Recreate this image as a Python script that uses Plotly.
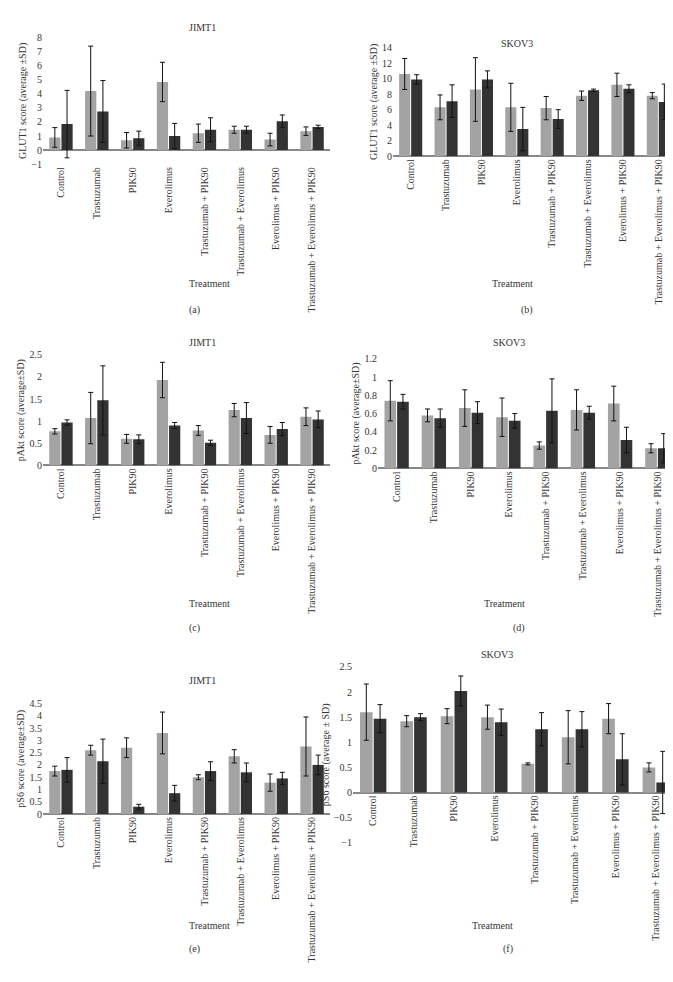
import plotly.graph_objects as go

categories = ["Control", "Trastuzumab", "PIK90", "Everolimus", "Trastuzumab + PIK90",
              "Trastuzumab + Everolimus", "Everolimus + PIK90", "Trastuzumab + Everolimus + PIK90"]

# (a) JIMT1 GLUT1
a_grey = [0.9, 4.2, 0.7, 4.85, 1.2, 1.45, 0.75, 1.35]
a_grey_sd = [0.7, 3.2, 0.55, 1.4, 0.65, 0.25, 0.45, 0.3]
a_dark = [1.85, 2.75, 0.85, 1.0, 1.45, 1.45, 2.05, 1.65]
a_dark_sd = [2.4, 2.2, 0.5, 0.9, 0.85, 0.25, 0.45, 0.12]
# (b) SKOV3 GLUT1
b_grey = [10.6, 6.3, 8.6, 6.3, 6.2, 7.8, 9.2, 7.8]
b_grey_sd = [2.0, 1.6, 4.1, 3.1, 1.5, 0.6, 1.5, 0.4]
b_dark = [9.9, 7.1, 9.9, 3.5, 4.8, 8.5, 8.7, 7.0]
b_dark_sd = [0.6, 2.1, 1.1, 2.8, 1.2, 0.15, 0.5, 2.3]
# (c) JIMT1 pAkt
c_grey = [0.77, 1.07, 0.6, 1.93, 0.79, 1.25, 0.69, 1.1]
c_grey_sd = [0.06, 0.58, 0.1, 0.4, 0.11, 0.15, 0.19, 0.2]
c_dark = [0.97, 1.47, 0.59, 0.9, 0.51, 1.07, 0.82, 1.04]
c_dark_sd = [0.06, 0.78, 0.1, 0.07, 0.06, 0.35, 0.15, 0.19]
# (d) SKOV3 pAkt
d_grey = [0.74, 0.58, 0.66, 0.56, 0.25, 0.64, 0.71, 0.22]
d_grey_sd = [0.22, 0.07, 0.2, 0.21, 0.04, 0.22, 0.19, 0.05]
d_dark = [0.73, 0.55, 0.61, 0.52, 0.63, 0.61, 0.31, 0.22]
d_dark_sd = [0.08, 0.1, 0.12, 0.08, 0.35, 0.07, 0.14, 0.16]
# (e) JIMT1 pS6
e_grey = [1.75, 2.6, 2.7, 3.3, 1.5, 2.35, 1.28, 2.75]
e_grey_sd = [0.2, 0.2, 0.4, 0.85, 0.1, 0.27, 0.35, 1.2]
e_dark = [1.8, 2.15, 0.3, 0.85, 1.75, 1.7, 1.45, 2.0]
e_dark_sd = [0.5, 0.9, 0.1, 0.32, 0.38, 0.38, 0.25, 0.4]
# (f) SKOV3 pS6
f_grey = [1.6, 1.42, 1.52, 1.5, 0.57, 1.1, 1.47, 0.5]
f_grey_sd = [0.56, 0.11, 0.15, 0.24, 0.02, 0.53, 0.3, 0.09]
f_dark = [1.47, 1.5, 2.02, 1.4, 1.26, 1.26, 0.66, 0.2]
f_dark_sd = [0.28, 0.07, 0.3, 0.26, 0.33, 0.35, 0.51, 0.62]

W, H = 673, 982
FONT = "Liberation Serif"
FS = 10

panels = [
    # grey, sd, dark, sd, title, ytitle, yrange, dtick, x px, y px, zero px, caption, treatment px, caption px, title px
    (a_grey, a_grey_sd, a_dark, a_dark_sd, "JIMT1", "GLUT1 score (average ±SD)", [-1, 8], 1,
     (35, 322), (24, 152), None, "(a)", 265, 292, 6),
    (b_grey, b_grey_sd, b_dark, b_dark_sd, "SKOV3", "GLUT1 score (average ±SD)", [0, 14], 2,
     (385, 668), (34, 144), None, "(b)", 265, 292, 22),
    (c_grey, c_grey_sd, c_dark, c_dark_sd, "JIMT1", "pAkt score (average±SD)", [0, 2.5], 0.5,
     (35, 322), (345, 457), None, "(c)", 597, 622, 333),
    (d_grey, d_grey_sd, d_dark, d_dark_sd, "SKOV3", "pAkt score (average±SD)", [0, 1.2], 0.2,
     (370, 668), (349, 460), None, "(d)", 597, 622, 333),
    (e_grey, e_grey_sd, e_dark, e_dark_sd, "JIMT1", "pS6 score (average±SD)", [0, 4.5], 0.5,
     (35, 322), (698, 810), None, "(e)", 930, 955, 682),
    (f_grey, f_grey_sd, f_dark, f_dark_sd, "SKOV3", "pS6 score (average ± SD)", [-1, 2.5], 0.5,
     (345, 668), (661, 839), 788, "(f)", 930, 955, 648),
]

fig = go.Figure()
layout = dict(width=W, height=H, margin=dict(l=0, r=0, t=0, b=0), plot_bgcolor="white",
              paper_bgcolor="white", showlegend=False, barmode="group", bargap=0.32,
              bargroupgap=0.08, font=dict(family=FONT, size=FS, color="#333"))
annotations = []

for i, (g, gsd, d, dsd, title, ytitle, yr, dt, xpx, ypx, zpx, cap, tpx, cpx, titpx) in enumerate(panels):
    n = i + 1
    xa = "x" if n == 1 else f"x{n}"
    ya = "y" if n == 1 else f"y{n}"
    err = dict(type="data", thickness=1, width=2.5, color="#111")
    fig.add_trace(go.Bar(x=categories, y=g, error_y=dict(array=gsd, **err),
                         marker=dict(color="#a3a3a3", line=dict(width=0)), xaxis=xa, yaxis=ya))
    fig.add_trace(go.Bar(x=categories, y=d, error_y=dict(array=dsd, **err),
                         marker=dict(color="#333333", line=dict(width=0)), xaxis=xa, yaxis=ya))
    xdom = [xpx[0] / W, xpx[1] / W]
    ydom = [1 - ypx[1] / H, 1 - ypx[0] / H]
    xkey = "xaxis" if n == 1 else f"xaxis{n}"
    ykey = "yaxis" if n == 1 else f"yaxis{n}"
    xax = dict(domain=xdom, tickangle=-90, tickfont=dict(size=FS, family=FONT),
               showline=False, ticks="", showgrid=False)
    if zpx is not None:
        xax.update(anchor="free", position=1 - zpx / H)
    else:
        xax.update(anchor=ya)
    layout[xkey] = xax
    layout[ykey] = dict(domain=ydom, range=yr, dtick=dt, anchor=xa, showgrid=False,
                        zeroline=True, zerolinecolor="#888", zerolinewidth=1.5,
                        showline=False, tickfont=dict(size=FS, family=FONT),
                        title=dict(text=ytitle, font=dict(size=FS, family=FONT), standoff=2))
    xc = (xpx[0] + xpx[1]) / 2 / W
    for txt, py in ((title, titpx), ("Treatment", tpx), (cap, cpx)):
        annotations.append(dict(text=txt, x=xc, y=1 - py / H, xref="paper", yref="paper",
                                showarrow=False, font=dict(size=FS, family=FONT)))

layout["annotations"] = annotations
fig.update_layout(**layout)
fig.write_html("out.html")
